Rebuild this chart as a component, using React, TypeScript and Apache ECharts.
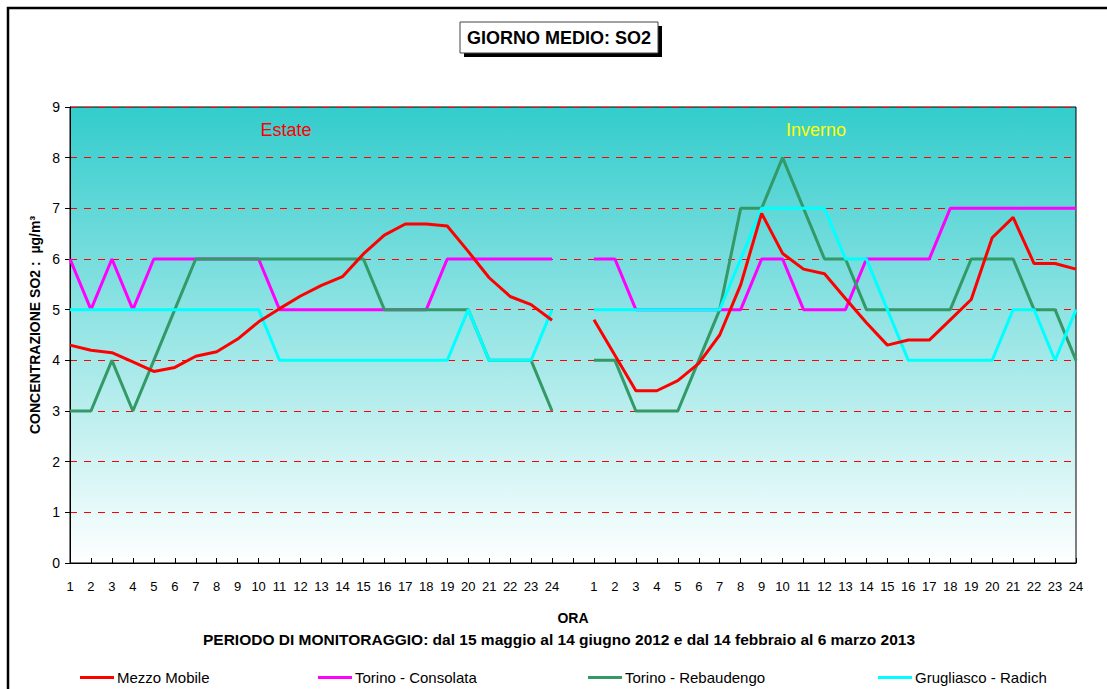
import React, { useEffect, useRef } from "react";
import * as echarts from "echarts";

const hours: string[] = ["1","2","3","4","5","6","7","8","9","10","11","12","13","14","15","16","17","18","19","20","21","22","23","24"];
const categories: string[] = [...hours, "", ...hours];

const estateMezzo = [4.3,4.2,4.15,3.97,3.78,3.86,4.08,4.17,4.42,4.76,5.02,5.27,5.48,5.65,6.1,6.47,6.69,6.69,6.65,6.15,5.63,5.26,5.1,4.79];
const invernoMezzo = [4.8,4.1,3.4,3.4,3.6,3.94,4.5,5.49,6.9,6.11,5.8,5.71,5.22,4.74,4.3,4.4,4.4,4.8,5.2,6.42,6.82,5.91,5.91,5.8];
const estateConsolata = [6,5,6,5,6,6,6,6,6,6,5,5,5,5,5,5,5,5,6,6,6,6,6,6];
const invernoConsolata = [6,6,5,5,5,5,5,5,6,6,5,5,5,6,6,6,6,7,7,7,7,7,7,7];
const estateRebaudengo = [3,3,4,3,4,5,6,6,6,6,6,6,6,6,6,5,5,5,5,5,4,4,4,3];
const invernoRebaudengo = [4,4,3,3,3,4,5,7,7,8,7,6,6,5,5,5,5,5,6,6,6,5,5,4];
const estateRadich = [5,5,5,5,5,5,5,5,5,5,4,4,4,4,4,4,4,4,4,5,4,4,4,5];
const invernoRadich = [5,5,5,5,5,5,5,6,7,7,7,7,6,6,5,4,4,4,4,4,5,5,4,5];

const seriesNames = ["Mezzo Mobile", "Torino - Consolata", "Torino - Rebaudengo", "Grugliasco - Radich"];
const seriesColors = ["#FF0000", "#FF00FF", "#339966", "#00FFFF"];

const join = (a: number[], b: number[]) => [...a, null, ...b];

const FONT = "'Liberation Sans', Arial, sans-serif";

export default function App() {
  const ref = useRef<HTMLDivElement>(null);
  useEffect(() => {
    if (!ref.current) return;
    const chart = echarts.init(ref.current, undefined, { renderer: "svg" });
    const dataSets = [
      join(estateMezzo, invernoMezzo),
      join(estateConsolata, invernoConsolata),
      join(estateRebaudengo, invernoRebaudengo),
      join(estateRadich, invernoRadich),
    ];
    const drawOrder = [1, 2, 3, 0];
    const legendLefts = [80, 318, 588, 878];
    chart.setOption({
      animation: false,
      backgroundColor: "#FFFFFF",
      textStyle: { fontFamily: FONT },
      grid: {
        left: 70,
        top: 107,
        right: 31,
        bottom: 126,
        show: true,
        borderColor: "#000",
        borderWidth: 1,
        backgroundColor: {
          type: "linear", x: 0, y: 0, x2: 0, y2: 1,
          colorStops: [
            { offset: 0, color: "#33CCCC" },
            { offset: 1, color: "#FFFFFF" },
          ],
        },
      },
      legend: seriesNames.map((n, i) => ({
        data: [n],
        left: legendLefts[i],
        top: 670,
        icon: "rect",
        itemWidth: 34,
        itemHeight: 3,
        padding: 0,
        textStyle: { fontFamily: FONT, fontSize: 15, color: "#000", padding: [0, 0, 0, -2] },
      })),
      xAxis: {
        type: "category",
        data: categories,
        boundaryGap: false,
        axisLine: { lineStyle: { color: "#000", width: 1 } },
        axisTick: { inside: true, length: 5, interval: 0, lineStyle: { color: "#000" } },
        axisLabel: { interval: 0, margin: 17, fontSize: 13, color: "#000", fontFamily: FONT },
        splitLine: { show: false },
      },
      yAxis: {
        type: "value",
        min: 0,
        max: 9,
        interval: 1,
        axisLine: { show: true, lineStyle: { color: "#000", width: 1 } },
        axisTick: { show: true, inside: false, length: 5, lineStyle: { color: "#000" } },
        axisLabel: { margin: 10, fontSize: 14, color: "#000", fontFamily: FONT },
        splitLine: { show: true, lineStyle: { color: "#FF0000", type: [7, 7], width: 1 } },
      },
      series: drawOrder.map((i) => ({
        name: seriesNames[i],
        type: "line",
        data: dataSets[i],
        symbol: "none",
        connectNulls: false,
        lineStyle: { color: seriesColors[i], width: 3 },
        itemStyle: { color: seriesColors[i] },
      })),
      graphic: [
        { type: "rect", shape: { x: 8, y: 8, width: 1200, height: 800 }, style: { fill: "none", stroke: "#000", lineWidth: 2.5 }, silent: true },
        { type: "rect", shape: { x: 464, y: 26, width: 198, height: 31 }, style: { fill: "#000" } },
        { type: "rect", shape: { x: 460, y: 22, width: 198, height: 31 }, style: { fill: "#FFF", stroke: "#444", lineWidth: 1 } },
        { type: "text", x: 559, y: 38, style: { text: "GIORNO MEDIO: SO2", font: `bold 18px ${FONT}`, fill: "#000", align: "center", verticalAlign: "middle" } },
        { type: "text", x: 286, y: 130, style: { text: "Estate", font: `18px ${FONT}`, fill: "#FF0000", align: "center", verticalAlign: "middle" } },
        { type: "text", x: 816, y: 130, style: { text: "Inverno", font: `18px ${FONT}`, fill: "#FFFF00", align: "center", verticalAlign: "middle" } },
        { type: "text", x: 573, y: 618, style: { text: "ORA", font: `bold 14px ${FONT}`, fill: "#000", align: "center", verticalAlign: "middle" } },
        { type: "text", x: 559, y: 639, style: { text: "PERIODO DI MONITORAGGIO: dal 15 maggio al 14 giugno 2012 e dal 14 febbraio al 6 marzo 2013", font: `bold 15.5px ${FONT}`, fill: "#000", align: "center", verticalAlign: "middle" } },
        { type: "text", x: 35, y: 325, rotation: Math.PI / 2, style: { text: "CONCENTRAZIONE SO2 :  µg/m³", font: `bold 14px ${FONT}`, fill: "#000", align: "center", verticalAlign: "middle" } },
      ],
    });
    return () => chart.dispose();
  }, []);
  return <div ref={ref} style={{ position: "absolute", left: 0, top: 0, width: 1107, height: 689 }} />;
}
